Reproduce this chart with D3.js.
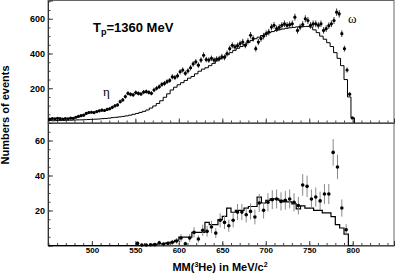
<!DOCTYPE html>
<html>
<head>
<meta charset="utf-8">
<script src="https://cdn.jsdelivr.net/npm/d3@7"></script>
<style>
  body { margin: 0; background: #fff; }
  svg { display: block; font-family: "Liberation Sans", Arial, sans-serif; }
  .tick text { font-weight: bold; fill: #000; }
</style>
</head>
<body>
<svg id="chart"></svg>
<script>
const w = 395;
const h = 274;

// top panel: data points, 3 MeV bins starting at 450
const topStart = 450, topStep = 3;
const topVals = [22,26,24,27,25,23,26,24,28,27,
  33,38,42,45,55,60,62,60,66,70,
  74,72,78,82,90,99,104,123,133,152,
  171,165,162,175,170,167,178,181,176,171,
  190,200,209,222,228,238,245,266,262,272,
  295,305,286,300,318,340,352,333,362,390,
  365,362,372,362,368,371,381,378,400,428,
  447,438,445,457,466,447,470,505,486,428,
  466,486,500,514,523,552,562,543,550,562,
  571,562,566,571,609,533,552,567,600,590,
  562,571,571,562,571,533,543,560,571,590,
  638,628,514,428,305,166,29];
const topErr = [5,5,5,5,5,5,5,5,5,5,
  6,6,7,7,7,8,8,8,8,8,
  9,9,9,9,10,10,10,11,11,12,
  12,12,12,12,12,12,12,12,12,12,
  13,13,13,14,14,14,14,15,15,15,
  15,15,15,15,15,16,16,16,16,17,
  16,16,16,16,16,16,17,17,17,17,
  17,17,17,17,18,17,18,19,18,17,
  18,18,19,19,19,19,19,19,19,19,
  19,19,19,19,20,19,19,19,20,20,
  19,19,19,19,19,19,19,19,19,20,
  21,21,19,17,15,11,5];

// top panel: simulation histogram, 4 MeV bins starting at 450
const topHistStart = 450, topHistStep = 4;
const topHist = [14,13,14,15,15,16,16,17,18,18,
  19,20,21,22,23,25,26,28,31,33,
  35,38,41,45,50,55,61,67,75,86,
  98,112,128,148,168,190,206,220,232,245,
  258,268,283,298,310,318,330,343,358,370,
  381,393,405,418,430,440,452,464,475,485,
  494,503,512,520,526,532,537,541,545,548,
  550,553,556,555,556,552,536,520,500,482,
  462,440,405,372,330,250,150,30];

// bottom panel: data points, 5 MeV bins starting at 550
const botStart = 550, botStep = 5;
const botVals = [1.2,0.3,0.3,0.4,0.5,1.5,0.8,1.2,1.8,2.6,
  4.3,1.0,4.3,7.5,3.7,8.7,8.1,10.6,7.1,14.4,
  13.2,11.3,14.4,19.1,19.1,17.6,19.5,16.3,24.3,20.1,
  24.7,26.2,26.6,25.2,25.8,26.6,24.7,22.8,34.6,33.8,
  26.6,27.7,25.5,29.4,29.4,53.2,44.9,21.4,9];
const botErr = [1,0.6,0.5,0.7,0.7,1.2,1,1.1,1.4,1.7,
  2.2,1.2,2.2,3,2,3.2,3,3.5,2.8,4,
  3.8,3.5,4,4.6,4.6,4.4,4.6,4.2,5.2,4.7,
  5.2,5.4,5.4,5.2,5.3,5.4,5.2,5,6.2,6.1,
  5.4,5.5,5.3,5.7,5.7,7.6,7,4.9,3.2];

// bottom panel: simulation histogram, 5 MeV bins starting at 450
const botHistStart = 450, botHistStep = 5;
const botHist = [0,0,0,0,0,0,0,0,0,0,
  0,0,0,0,0,0,0,0,0,0,
  0,0,0,0,0.5,1,1,1.5,2,3,
  4.8,4.8,4.8,7.5,7.5,7.5,13.2,11.9,11.9,14.8,
  16.7,21.4,19,20.1,20.1,21.4,22.3,22.3,27.7,24.3,
  25.8,26.6,26.6,25.8,24.9,24.9,23.8,20.9,22.7,21.4,
  21.4,20.1,20.1,18.6,18.6,16.5,11.9,10,6.5,0];

const xMajor = [500, 550, 600, 650, 700, 750, 800];
const topMajor = [200, 400, 600];
const botMajor = [20, 40, 60];

const svg = d3.select("#chart").attr("width", w).attr("height", h);

const left = 48, right = 394;
const x = d3.scaleLinear().domain([449.5, 847.5]).range([left, right]);
const yTop = d3.scaleLinear().domain([0, 705]).range([123, 0.5]);
const yBot = d3.scaleLinear().domain([0, 70]).range([245.5, 123]);

function points(vals, start, step) {
  return vals.map((v, i) => ({ x: start + step * (i + 0.5), v: v, i: i }));
}

function histLine(vals, start, step, y) {
  const pts = vals.map((v, i) => [start + step * i, v]);
  pts.push([start + step * vals.length, vals[vals.length - 1]]);
  pts.push([start + step * vals.length, 0]);
  return d3.line().x(d => x(d[0])).y(d => y(d[1])).curve(d3.curveStepAfter)(pts);
}

function panel(y, y0, y1, major, minorStep, showLabels) {
  // frame
  svg.append("rect")
    .attr("x", left).attr("y", y1)
    .attr("width", right - left).attr("height", y0 - y1)
    .attr("fill", "none").attr("stroke", "#666").attr("stroke-width", 1);

  const dom = y.domain();
  const minor = d3.range(0, dom[1], minorStep);
  svg.append("g").attr("transform", `translate(${left},0)`)
    .call(d3.axisLeft(y).tickValues(minor).tickSize(-2.5).tickFormat(""))
    .call(g => g.select(".domain").remove())
    .selectAll("line").attr("stroke", "#444");
  svg.append("g").attr("transform", `translate(${left},0)`)
    .call(d3.axisLeft(y).tickValues(major).tickSize(-5).tickPadding(3))
    .call(g => g.select(".domain").attr("stroke", "#333"))
    .call(g => g.selectAll("line").attr("stroke", "#444"))
    .call(g => g.selectAll("text").style("font-size", "9px"));

  const xMinor = d3.range(450, 850, 10);
  svg.append("g").attr("transform", `translate(0,${y0})`)
    .call(d3.axisBottom(x).tickValues(xMinor).tickSize(-2.5).tickFormat(""))
    .call(g => g.select(".domain").remove())
    .selectAll("line").attr("stroke", "#444");
  const xa = svg.append("g").attr("transform", `translate(0,${y0})`)
    .call(d3.axisBottom(x).tickValues(xMajor).tickSize(-4.5).tickPadding(2)
      .tickFormat(showLabels ? d3.format("d") : ""))
    .call(g => g.select(".domain").attr("stroke", "#333"))
    .call(g => g.selectAll("line").attr("stroke", "#444"))
    .call(g => g.selectAll("text").style("font-size", "8px"));
}

panel(yTop, 123, 0.5, topMajor, 50, false);
panel(yBot, 245.5, 123, botMajor, 5, true);

// histograms
svg.append("path").attr("d", histLine(topHist, topHistStart, topHistStep, yTop))
  .attr("fill", "none").attr("stroke", "#000").attr("stroke-width", 1);
svg.append("path").attr("d", histLine(botHist, botHistStart, botHistStep, yBot))
  .attr("fill", "none").attr("stroke", "#000").attr("stroke-width", 1.2);

// top data points
const tp = points(topVals, topStart, topStep);
svg.append("g").selectAll("line").data(tp).enter().append("line")
  .attr("x1", d => x(d.x)).attr("x2", d => x(d.x))
  .attr("y1", d => yTop(d.v - topErr[d.i])).attr("y2", d => yTop(d.v + topErr[d.i]))
  .attr("stroke", "#222").attr("stroke-width", 0.9);
svg.append("g").selectAll("circle").data(tp).enter().append("circle")
  .attr("cx", d => x(d.x)).attr("cy", d => yTop(d.v)).attr("r", 1.6)
  .attr("fill", "#000");

// bottom data points
const bp = points(botVals, botStart, botStep);
svg.append("g").selectAll("line").data(bp).enter().append("line")
  .attr("x1", d => x(d.x)).attr("x2", d => x(d.x))
  .attr("y1", d => yBot(Math.max(0, d.v - botErr[d.i]))).attr("y2", d => yBot(d.v + botErr[d.i]))
  .attr("stroke", "#888").attr("stroke-width", 1);
svg.append("g").selectAll("circle").data(bp).enter().append("circle")
  .attr("cx", d => x(d.x)).attr("cy", d => yBot(d.v)).attr("r", 1.8)
  .attr("fill", "#000");

// annotations
const tlab = svg.append("text").attr("x", 93).attr("y", 32)
  .style("font-size", "13px").style("font-weight", "bold");
tlab.append("tspan").text("T");
tlab.append("tspan").attr("dy", 3).style("font-size", "9px").text("p");
tlab.append("tspan").attr("dy", -3).text("=1360 MeV");

svg.append("text").attr("x", 103).attr("y", 96)
  .style("font-family", "'Liberation Serif', serif").style("font-size", "13px").text("η");
svg.append("text").attr("x", 348).attr("y", 23)
  .style("font-family", "'Liberation Serif', serif").style("font-size", "13px").text("ω");

svg.append("text").attr("transform", "translate(9,115) rotate(-90)")
  .attr("text-anchor", "middle")
  .style("font-size", "11px").style("font-weight", "bold")
  .text("Numbers of events");

const xl = svg.append("text").attr("x", 220).attr("y", 271)
  .attr("text-anchor", "middle")
  .style("font-size", "11px").style("font-weight", "bold");
xl.append("tspan").text("MM(");
xl.append("tspan").attr("dy", -4).style("font-size", "7px").text("3");
xl.append("tspan").attr("dy", 4).text("He) in MeV/c");
xl.append("tspan").attr("dy", -4).style("font-size", "7px").text("2");
</script>
</body>
</html>
